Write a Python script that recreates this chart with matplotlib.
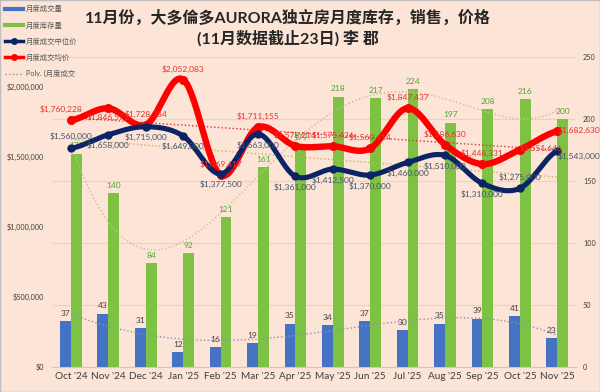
import numpy as np
import matplotlib
matplotlib.use("Agg")
import matplotlib.pyplot as plt
from matplotlib.lines import Line2D
from matplotlib.patches import Rectangle
from matplotlib.ticker import FuncFormatter

plt.rcParams['font.family'] = ['Lato', 'Noto Sans CJK SC', 'DejaVu Sans']

# =========================
# DATA
# =========================

months = ["Oct '24", "Nov '24", "Dec '24", "Jan '25", "Feb '25", "Mar '25", "Apr '25",
          "May '25", "Jun '25", "Jul '25", "Aug '25", "Sep '25", "Oct '25", "Nov '25"]
volume = [37, 43, 31, 12, 16, 19, 35, 34, 37, 30, 35, 39, 41, 23]
inventory = [172, 140, 84, 92, 121, 161, 179, 218, 217, 224, 197, 208, 216, 200]
median_price = [1560000, 1658000, 1715000, 1649000, 1377500, 1663000, 1361000,
                1412500, 1370000, 1460000, 1510000, 1310000, 1275000, 1543000]
avg_price = [1760228, 1846571, 1728384, 2052083, 1369417, 1711155, 1578214,
             1575426, 1560414, 1847437, 1586630, 1448331, 1551646, 1682630]

title_text = "11月份，大多倫多AURORA独立房月度库存，销售，价格\n(11月数据截止23日) 李 郡"

BG = '#FCE4D6'
BLUE = '#4472C4'
GREEN = '#7DC242'
NAVY = '#0B2466'
RED = '#FF0000'


def smooth(y, n=30):
    # Excel-style smoothed line (Catmull-Rom) used only for drawing the curve
    y = np.asarray(y, float)
    p = np.concatenate([[y[0]], y, [y[-1]]])
    t = np.linspace(0, 1, n, endpoint=False)
    xs, ys = [], []
    for i in range(len(y) - 1):
        p0, p1, p2, p3 = p[i:i + 4]
        seg = 0.5 * (2 * p1 + (-p0 + p2) * t + (2 * p0 - 5 * p1 + 4 * p2 - p3) * t ** 2
                     + (-p0 + 3 * p1 - 3 * p2 + p3) * t ** 3)
        xs.append(i + t)
        ys.append(seg)
    xs.append([len(y) - 1])
    ys.append([y[-1]])
    return np.concatenate(xs), np.concatenate(ys)


x = np.arange(len(months))
xd = np.linspace(0, len(months) - 1, 200)

# =========================
# FIGURE
# =========================

fig = plt.figure(figsize=(6, 3.92), dpi=100, facecolor=BG)
ax = fig.add_axes([0.087, 0.064, 0.873, 0.791])
ax2 = ax.twinx()
ax.set_zorder(ax2.get_zorder() + 1)
ax.patch.set_visible(False)
ax2.patch.set_visible(False)

# bars (right axis)
w = 0.29
ax2.bar(x - w / 2, volume, width=w, color=BLUE, zorder=2)
ax2.bar(x + w / 2, inventory, width=w, color=GREEN, zorder=2)
for i in range(len(x)):
    ax2.annotate(str(volume[i]), (x[i] - w / 2, volume[i]), xytext=(0, 3),
                 textcoords='offset points', ha='center', va='bottom',
                 fontsize=6, color='#404040')
    ax2.annotate(str(inventory[i]), (x[i] + w / 2, inventory[i]), xytext=(0, 3),
                 textcoords='offset points', ha='center', va='bottom',
                 fontsize=6, color='#4EA72E')

# trendlines
vol_fit = np.polyval(np.polyfit(x, volume, 4), xd)
ax2.plot(xd, vol_fit, ls=':', lw=1, color='#8497B0', zorder=3)
inv_fit = np.polyval(np.polyfit(x, inventory, 5), xd)
ax2.plot(xd, inv_fit, ls=':', lw=1, color='#C9BD98', zorder=3)
med_fit = np.polyval(np.polyfit(x, median_price, 1), xd)
ax.plot(xd, med_fit, ls=':', lw=1, color='#C8B560', zorder=1)
avg_fit = np.polyval(np.polyfit(x, avg_price, 1), xd)
ax.plot(xd, avg_fit, ls=':', lw=1, color='#E03030', zorder=1)

# price lines (left axis)
sx, sy = smooth(avg_price)
ax.plot(sx, sy, color=RED, lw=4.6, zorder=3, solid_capstyle='round')
ax.plot(x, avg_price, 'o', color=RED, ms=5.5, zorder=4)
sx, sy = smooth(median_price)
ax.plot(sx, sy, color=NAVY, lw=3.7, zorder=5, solid_capstyle='round')
ax.plot(x, median_price, 'o', color=NAVY, ms=5, zorder=6)

for i in range(len(x)):
    if i == 0:
        off, ha, va = (0, 6), 'center', 'bottom'
    elif i == len(x) - 1:
        off, ha, va = (0, -4), 'left', 'center'
    elif i == 12:
        off, ha, va = (0, 5), 'center', 'bottom'
    else:
        off, ha, va = (0, -5), 'center', 'top'
    ax.annotate(f"${median_price[i]:,}", (x[i], median_price[i]), xytext=off,
                textcoords='offset points', ha=ha, va=va, fontsize=6,
                color='#44546A', zorder=7)

for i in range(len(x)):
    if i == 0:
        off, ha, va = (-7, 5), 'center', 'bottom'
    elif i == 1:
        off, ha, va = (0, -4), 'center', 'top'
    elif i >= 12:
        off, ha, va = (0, 1), 'left', 'center'
    else:
        off, ha, va = (0, 5), 'center', 'bottom'
    ax.annotate(f"${avg_price[i]:,}", (x[i], avg_price[i]), xytext=off,
                textcoords='offset points', ha=ha, va=va, fontsize=6,
                color='#E83030', zorder=7)

# axes
ax.set_xlim(-0.5, len(months) - 0.5)
ax.set_ylim(0, 2214000)
ax2.set_ylim(0, 250)
ax.set_yticks([0, 500000, 1000000, 1500000, 2000000])
ax.yaxis.set_major_formatter(FuncFormatter(lambda v, p: f"${v:,.0f}"))
ax2.set_yticks([0, 50, 100, 150, 200, 250])
ax2.grid(axis='y', color='#EBD3C2', lw=0.8, zorder=0)
ax.set_xticks(x)
ax.set_xticklabels(months, fontsize=7.2, color='#404040')
ax.tick_params(axis='y', labelsize=5.2, colors='#404040', length=0, pad=6)
ax2.tick_params(axis='y', labelsize=5.2, colors='#404040', length=0, pad=5)
ax.tick_params(axis='x', length=0, pad=4)
for a in (ax, ax2):
    for s in a.spines.values():
        s.set_visible(False)
ax2.spines['bottom'].set_visible(True)
ax2.spines['bottom'].set_color('#D9C5B8')

fig.text(0.48, 0.975, title_text, ha='center', va='top', fontsize=11.5,
         fontweight='bold', color='#262626', linespacing=1.3)

handles = [
    Line2D([], [], color=BLUE, lw=3),
    Line2D([], [], color=GREEN, lw=3),
    Line2D([], [], color=NAVY, lw=2.5, marker='o', ms=4),
    Line2D([], [], color=RED, lw=2.5, marker='o', ms=4),
    Line2D([], [], color='#8497B0', lw=1, ls=':'),
]
labels = ["月度成交量", "月度库存量", "月度成交中位价", "月度成交均价", "Poly. (月度成交"]
leg = fig.legend(handles, labels, loc='upper left', bbox_to_anchor=(0.0, 1.0),
                 frameon=False, fontsize=5.3, handlelength=2.4, handletextpad=0.4,
                 labelspacing=1.2, borderaxespad=0.3)
for t in leg.get_texts():
    t.set_color('#595959')

fig.patches.append(Rectangle((0, 0), 1, 1, transform=fig.transFigure, fill=False,
                             edgecolor='#BFBFBF', lw=1))

plt.savefig("out.png", dpi=100, facecolor=BG)
plt.close()
